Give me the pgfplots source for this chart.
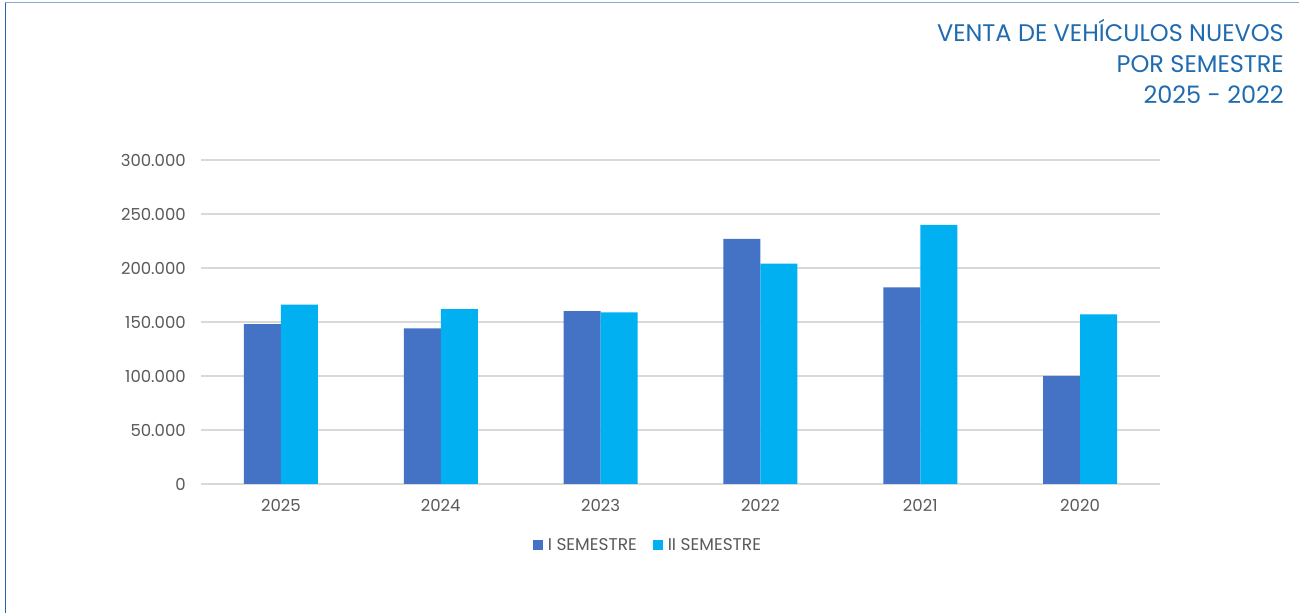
\documentclass[border=0pt]{standalone}
\usepackage{fontspec}
\setmainfont{Poppins}
\usepackage{pgfplots}
\pgfplotsset{compat=1.18}
\definecolor{serA}{HTML}{4472C4}
\definecolor{serB}{HTML}{00B0F0}
\definecolor{gridc}{HTML}{D9D9D9}
\definecolor{txt}{HTML}{595959}
\definecolor{ttl}{HTML}{1F6BB0}
\definecolor{frameL}{HTML}{2463AC}
\definecolor{frameT}{HTML}{86AAD4}
\begin{document}
\begin{tikzpicture}[x=1pt,y=1pt]
\path[use as bounding box] (0,0) rectangle (1299,613);
\draw[frameL,line width=1.5pt] (5.5,610) -- (5.5,0);
\draw[frameT,line width=1.5pt] (5,610.5) -- (1299,610.5);
\node[anchor=north east,align=right,text=ttl,font=\fontsize{24}{31}\selectfont,inner sep=0pt] at (1284,594) {VENTA DE VEHÍCULOS NUEVOS\\POR SEMESTRE\\2025 - 2022};
\begin{axis}[
  at={(201pt,129pt)}, anchor=south west,
  width=959pt, height=324pt, scale only axis,
  ybar=0pt, bar width=37pt,
  xmin=-0.5, xmax=5.5, ymin=0, ymax=300000,
  xtick=data, xticklabels={2025,2024,2023,2022,2021,2020},
  ytick={0,50000,100000,150000,200000,250000,300000},
  scaled y ticks=false,
  /pgf/number format/.cd, fixed, precision=0, 1000 sep={.}, assume math mode=true,
  /pgfplots/.cd,
  major tick length=0pt,
  axis line style={draw=none},
  ymajorgrids, grid style={gridc,line width=1.5pt},
  tick label style={text=txt,font=\fontsize{16.5}{19}\selectfont},
  yticklabel style={anchor=east,inner sep=0pt,xshift=-15pt},
  xticklabel style={anchor=north,inner sep=0pt,yshift=-15pt},
  legend style={at={(axis description cs:0.466,-0.188)},anchor=center,draw=none,fill=none,
    font=\fontsize{17}{20}\selectfont,text=txt,
    /tikz/every odd column/.append style={column sep=3pt},
    /tikz/every even column/.append style={column sep=14pt}},
  legend columns=2,
  legend cell align=left,
  legend image code/.code={\fill[#1] (0pt,-5pt) rectangle (10pt,5pt);},
]
\addplot[fill=serA,draw=none] coordinates {(0,148000) (1,144000) (2,160000) (3,227000) (4,182000) (5,100000)};
\addplot[fill=serB,draw=none] coordinates {(0,166000) (1,162000) (2,159000) (3,204000) (4,240000) (5,157000)};
\legend{I SEMESTRE, II SEMESTRE}
\end{axis}
\end{tikzpicture}
\end{document}
